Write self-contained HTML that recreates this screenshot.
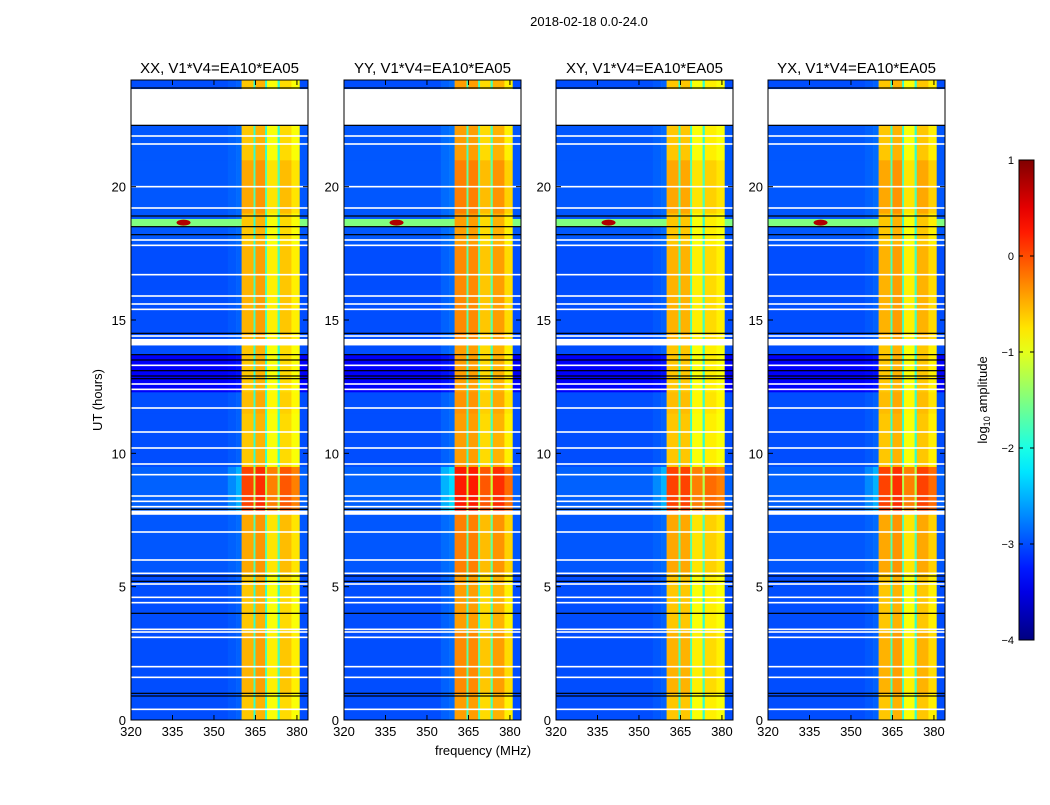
<!DOCTYPE html>
<html><head><meta charset="utf-8"><style>
body{margin:0;background:#fff;font-family:"Liberation Sans",sans-serif}
svg text{font-family:"Liberation Sans",sans-serif}
</style></head><body>
<svg id="fig" width="1050" height="800" xmlns="http://www.w3.org/2000/svg">
<text x="589" y="26" font-size="13" text-anchor="middle">2018-02-18 0.0-24.0</text>
<text x="0" y="0" font-size="13" text-anchor="middle" transform="translate(102,400) rotate(-90)">UT (hours)</text>
<text x="483" y="755" font-size="13" text-anchor="middle">frequency (MHz)</text>
<g id="panels"></g>
<g id="cbar"></g>
<text x="0" y="0" font-size="13" text-anchor="middle" transform="translate(987,400) rotate(-90)">log<tspan font-size="9" dy="3">10</tspan><tspan dy="-3"> amplitude</tspan></text>
</svg>
<script>
const NS="http://www.w3.org/2000/svg";
const panelTitles=["XX, V1*V4=EA10*EA05","YY, V1*V4=EA10*EA05","XY, V1*V4=EA10*EA05","YX, V1*V4=EA10*EA05"];
const panelLefts=[131,344,556,768];
const xTicks=[320,335,350,365,380];
const yTicks=[0,5,10,15,20];
const cbTicks=[1,0,-1,-2,-3,-4];
const freqEdges=[320,355,358,360,364.3,365,368.5,369.2,373,373.8,378,381,384];
const levelsXX=[-3.0,-2.95,-2.9,-0.6,-1.9,-0.5,-1.9,-0.9,-1.9,-0.7,-0.9,-3.0];
const levelsYY=[-3.0,-2.9,-2.85,-0.4,-1.8,-0.4,-1.8,-0.7,-1.8,-0.5,-0.8,-3.0];
const levelsXY=[-3.0,-2.95,-2.9,-0.6,-1.9,-0.6,-1.9,-0.9,-1.9,-0.8,-0.9,-3.0];
const levelsYX=[-3.0,-2.95,-2.9,-0.6,-1.9,-0.5,-1.9,-0.9,-1.9,-0.6,-0.8,-3.0];
const panelLevels=[levelsXX,levelsYY,levelsXY,levelsYX];
const segStart=[0,1,3.3,5.5,7.85,9.5,11.5,12.3,13.7,14.3,17.8,18.5,18.8,19,21,23.66];
const segEnd=[1,3.3,5.5,7.7,9.5,11.5,12.3,13.7,14.05,17.8,18.5,18.8,19,21,22.3,24];
const segBoost=[0,0.1,0,0.15,0.65,0,0.05,0,0,0.1,0,0,0,0.15,0,0];
const segBg=[-3.0,-3.0,-3.0,-2.95,-2.9,-3.0,-3.0,-3.4,-3.0,-3.0,-2.95,-1.5,-2.95,-2.95,-2.95,-3.0];
const whiteLines=[0.4,1.6,2.0,3.1,3.3,3.4,4.4,4.6,5.1,5.5,6.0,7.05,8.0,8.2,8.4,9.2,9.6,10.2,10.8,11.7,12.4,12.6,13.3,14.4,15.4,15.6,15.9,16.7,17.8,18.0,19.2,20.0,21.6,21.9];
const whiteGapStart=[7.7,14.05,22.3];
const whiteGapEnd=[7.85,14.25,23.66];
const blackLines=[0.9,1.0,4.0,5.2,5.4,7.9,12.8,12.9,13.1,13.5,13.7,14.5,18.2,18.5,18.9,22.3,23.7];
const hotSpotFreq=[339];
const hotSpotHour=[18.65];

const W=177,TOP=80,BOT=720;
function xs(f,L){return L+(f-320)/(384-320)*W;}
function ys(h){return BOT-(h/24)*(BOT-TOP);}
function jet(v){let t=(v+4)/5;t=Math.max(0,Math.min(1,t));
 const r=Math.max(0,Math.min(1,1.5-Math.abs(4*t-3))),g=Math.max(0,Math.min(1,1.5-Math.abs(4*t-2))),b=Math.max(0,Math.min(1,1.5-Math.abs(4*t-1)));
 return `rgb(${Math.round(r*255)},${Math.round(g*255)},${Math.round(b*255)})`;}
function el(tag,attrs,parent){const e=document.createElementNS(NS,tag);for(const k in attrs)e.setAttribute(k,attrs[k]);parent.appendChild(e);return e;}
const root=document.getElementById('panels');
panelLefts.forEach((L,p)=>{
 const g=el('g',{},root);
 
 
 const lv=panelLevels[p];
 el('rect',{x:L,y:TOP,width:W,height:BOT-TOP,fill:'#fff'},g);
 for(let s=0;s<segStart.length;s++){
  const y0=ys(segEnd[s]),y1=ys(segStart[s]);
  for(let k=0;k<lv.length;k++){
   const inBand=lv[k]>-2.5;
   let v=inBand?lv[k]+segBoost[s]:segBg[s]+(lv[k]+3.0)*(segStart[s]>7&&segStart[s]<9?4:1);
   if(!inBand&&segBg[s]>-2)v=segBg[s];
   const r=el('rect',{x:xs(freqEdges[k],L),y:y0,width:xs(freqEdges[k+1],L)-xs(freqEdges[k],L)+0.3,height:y1-y0+0.3,fill:jet(v)},g);
   
   
  }
 }
 hotSpotFreq.forEach((f,i)=>{const c=el('ellipse',{cx:xs(f,L),cy:ys(hotSpotHour[i]),rx:7,ry:3,fill:'#b00000'},g);
  });
 whiteLines.forEach(h=>{el('rect',{x:L,y:ys(h)-0.8,width:W,height:1.6,fill:'#fff'},g);});
 whiteGapStart.forEach((h,i)=>{const r=el('rect',{x:L,y:ys(whiteGapEnd[i]),width:W,height:ys(h)-ys(whiteGapEnd[i]),fill:'#fff'},g);
  });
 blackLines.forEach(h=>{el('rect',{x:L,y:ys(h)-0.6,width:W,height:1.2,fill:'#000'},g);});
 el('rect',{x:L,y:TOP,width:W,height:BOT-TOP,fill:'none',stroke:'#000','stroke-width':1},g);
 const t=el('text',{x:L+W/2,y:TOP-7,'font-size':15,'text-anchor':'middle'},g);t.textContent=panelTitles[p];
 
 xTicks.forEach(f=>{const x=xs(f,L);el('line',{x1:x,x2:x,y1:BOT,y2:BOT-5,stroke:'#000'},g);el('line',{x1:x,x2:x,y1:TOP,y2:TOP+5,stroke:'#000'},g);
  const tt=el('text',{x:x,y:BOT+16,'font-size':13,'text-anchor':'middle'},g);tt.textContent=f;
  });
 yTicks.forEach(h=>{const y=ys(h);el('line',{x1:L,x2:L+5,y1:y,y2:y,stroke:'#000'},g);el('line',{x1:L+W,x2:L+W-5,y1:y,y2:y,stroke:'#000'},g);
  const tt=el('text',{x:L-5,y:y+5,'font-size':13,'text-anchor':'end'},g);tt.textContent=h;
  });
});
const cb=document.getElementById('cbar');
const CX=1019,CW=15,CT=160,CB=640;
const defs=el('defs',{},cb);const lg=el('linearGradient',{id:'jetg',x1:0,y1:1,x2:0,y2:0},defs);
for(let i=0;i<=20;i++){el('stop',{offset:i/20,'stop-color':jet(-4+5*i/20)},lg);}
el('rect',{x:CX,y:CT,width:CW,height:CB-CT,fill:'url(#jetg)',stroke:'#000'},cb);
cbTicks.forEach(v=>{const y=CB-(v+4)/5*(CB-CT);el('line',{x1:CX,x2:CX+4,y1:y,y2:y,stroke:'#000'},cb);el('line',{x1:CX+CW,x2:CX+CW-4,y1:y,y2:y,stroke:'#000'},cb);
 const t=el('text',{x:CX-5,y:y+4,'font-size':11,'text-anchor':'end'},cb);t.textContent=v<0?'\u2212'+(-v):v;
 });
</script>
</body></html>
